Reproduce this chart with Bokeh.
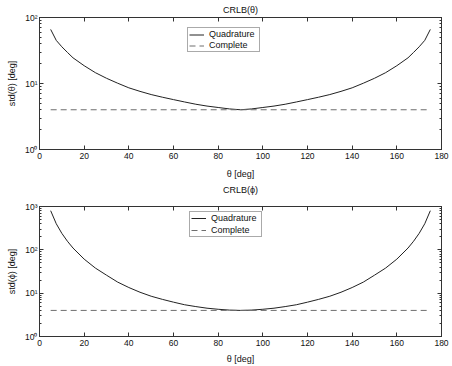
from bokeh.plotting import figure
from bokeh.layouts import column
from bokeh.models import (Range1d, FixedTicker, LogTicker, CustomJSTickFormatter,
                          LinearAxis, LogAxis, Legend, LegendItem, ColumnDataSource)
from bokeh.embed import file_html
from bokeh.resources import INLINE

# ---- data ----
theta = [5, 7.5, 10, 12.5, 15, 20, 25, 30, 35, 40, 45, 50, 55, 60, 65, 70, 75, 80, 85, 90,
         95, 100, 105, 110, 115, 120, 125, 130, 135, 140, 145, 150, 155, 160, 165, 167.5,
         170, 172.5, 175]
crlb_theta_quad = [66, 45, 36, 29.6, 24.5, 18.6, 14.6, 12.0, 10.1, 8.6, 7.6, 6.8, 6.2, 5.7,
                   5.25, 4.85, 4.55, 4.33, 4.12, 4.0,
                   4.12, 4.33, 4.55, 4.85, 5.25, 5.7, 6.2, 6.8, 7.6, 8.6, 10.1, 12.0, 14.6,
                   18.6, 24.5, 29.6, 36, 45, 66]
crlb_phi_quad = [800, 400, 240, 158, 110, 61, 38, 26, 18, 13.5, 10.5, 8.5, 7.2, 6.2, 5.4,
                 4.9, 4.5, 4.25, 4.07, 4.0,
                 4.07, 4.25, 4.5, 4.9, 5.4, 6.2, 7.2, 8.5, 10.5, 13.5, 18, 26, 38, 61, 110,
                 158, 240, 400, 800]
theta_complete = [5, 175]
crlb_theta_complete = [4, 4]
crlb_phi_complete = [4, 4]

x_ticks = [0, 20, 40, 60, 80, 100, 120, 140, 160, 180]
titles = ["CRLB(\u03b8)", "CRLB(\u03d5)"]
ylabels = ["std(\u03b8) [deg]", "std(\u03d5) [deg]"]
xlabel = "\u03b8 [deg]"
series_names = ["Quadrature", "Complete"]

FONT = "Liberation Sans"
AX = "#333333"


def sup_fmt():
    return CustomJSTickFormatter(code="""
const e = Math.round(Math.log10(tick));
const sup = {"0":"\\u2070","1":"\\u00b9","2":"\\u00b2","3":"\\u00b3","4":"\\u2074"};
return "10" + sup[String(e)];
""")


def blank_fmt():
    return CustomJSTickFormatter(code="return ' ';")


def style_axis(ax, minor):
    ax.axis_line_color = AX
    ax.major_tick_line_color = AX
    ax.minor_tick_line_color = AX
    ax.major_tick_in = 4
    ax.major_tick_out = 0
    ax.minor_tick_in = 2 if minor else 0
    ax.minor_tick_out = 0
    ax.major_label_text_font = FONT
    ax.major_label_text_color = "#111111"
    ax.axis_label_text_font = FONT
    ax.axis_label_text_font_size = "9px"
    ax.axis_label_text_font_style = "normal"
    ax.axis_label_text_color = "#111111"


def make_fig(title, ylabel, quad, comp, ymax, width, height, frame_top, frame_bottom_border,
             right_border, leg_loc, leg_lh, leg_sp, title_standoff, xlab_standoff,
             title_as_axis):
    xt = FixedTicker(ticks=x_ticks)
    yt = LogTicker(num_minor_ticks=10)

    p = figure(width=width, height=height, x_range=Range1d(0, 180), y_range=Range1d(1, ymax),
               y_axis_type="log", output_backend="svg", toolbar_location=None,
               min_border_left=39, min_border_right=right_border,
               min_border_top=frame_top, min_border_bottom=frame_bottom_border)
    p.background_fill_color = "white"
    p.border_fill_color = "white"
    p.outline_line_color = AX
    p.grid.visible = False
    if not title_as_axis:
        p.title.text = title
        p.title.text_font = FONT
        p.title.text_font_size = "9px"
        p.title.text_font_style = "normal"
        p.title.align = "center"
        p.title.text_color = "#111111"
        p.title.standoff = title_standoff

    src = ColumnDataSource(dict(x=theta, y=quad))
    r1 = p.line("x", "y", source=src, line_color="#222222", line_width=1)
    src2 = ColumnDataSource(dict(x=theta_complete, y=comp))
    r2 = p.line("x", "y", source=src2, line_color="#6e6e6e", line_width=1, line_dash="6 4")

    bottom = p.below[0]
    left = p.left[0]
    bottom.ticker = xt
    left.ticker = yt
    left.formatter = sup_fmt()
    style_axis(bottom, False)
    style_axis(left, True)
    bottom.axis_label = xlabel
    bottom.major_label_text_font_size = "8.5px"
    bottom.major_label_standoff = 3
    bottom.axis_label_standoff = xlab_standoff
    left.axis_label = ylabel
    left.major_label_text_font_size = "8.5px"
    left.major_label_standoff = 2
    left.axis_label_standoff = 5

    top = LinearAxis(ticker=xt, formatter=blank_fmt())
    right = LogAxis(ticker=yt, formatter=blank_fmt())
    style_axis(top, False)
    style_axis(right, True)
    for ax in (top, right):
        ax.major_label_text_font_size = "1px"
        ax.major_label_standoff = 0
        ax.major_label_text_alpha = 0
        ax.axis_label_standoff = 0
    if title_as_axis:
        top.axis_label = title
        top.axis_label_standoff = title_standoff
    p.add_layout(top, "above")
    p.add_layout(right, "right")

    legend = Legend(items=[LegendItem(label=series_names[0], renderers=[r1]),
                           LegendItem(label=series_names[1], renderers=[r2])],
                    location=leg_loc)
    legend.label_text_font = FONT
    legend.label_text_font_size = "9px"
    legend.label_text_color = "#111111"
    legend.padding = 1
    legend.spacing = leg_sp
    legend.margin = 0
    legend.label_height = leg_lh
    legend.glyph_height = leg_lh
    legend.glyph_width = 15
    legend.label_standoff = 5
    legend.label_width = 49
    legend.border_line_color = "#555555"
    legend.border_line_width = 1
    legend.background_fill_alpha = 1
    p.add_layout(legend)
    return p


p1 = make_fig(titles[0], ylabels[0], crlb_theta_quad, crlb_theta_complete, 100,
              452, 181, 17, 31, 11, (148, 97), 9, 1, 5, 7, False)
p2 = make_fig(titles[1], ylabels[1], crlb_phi_quad, crlb_phi_complete, 1000,
              452, 185, 24, 29, 5, (150, 99), 10, 2, 12, 5, True)

layout = column(p1, p2, spacing=0)

open("out.html", "w").write(file_html(layout, INLINE))
